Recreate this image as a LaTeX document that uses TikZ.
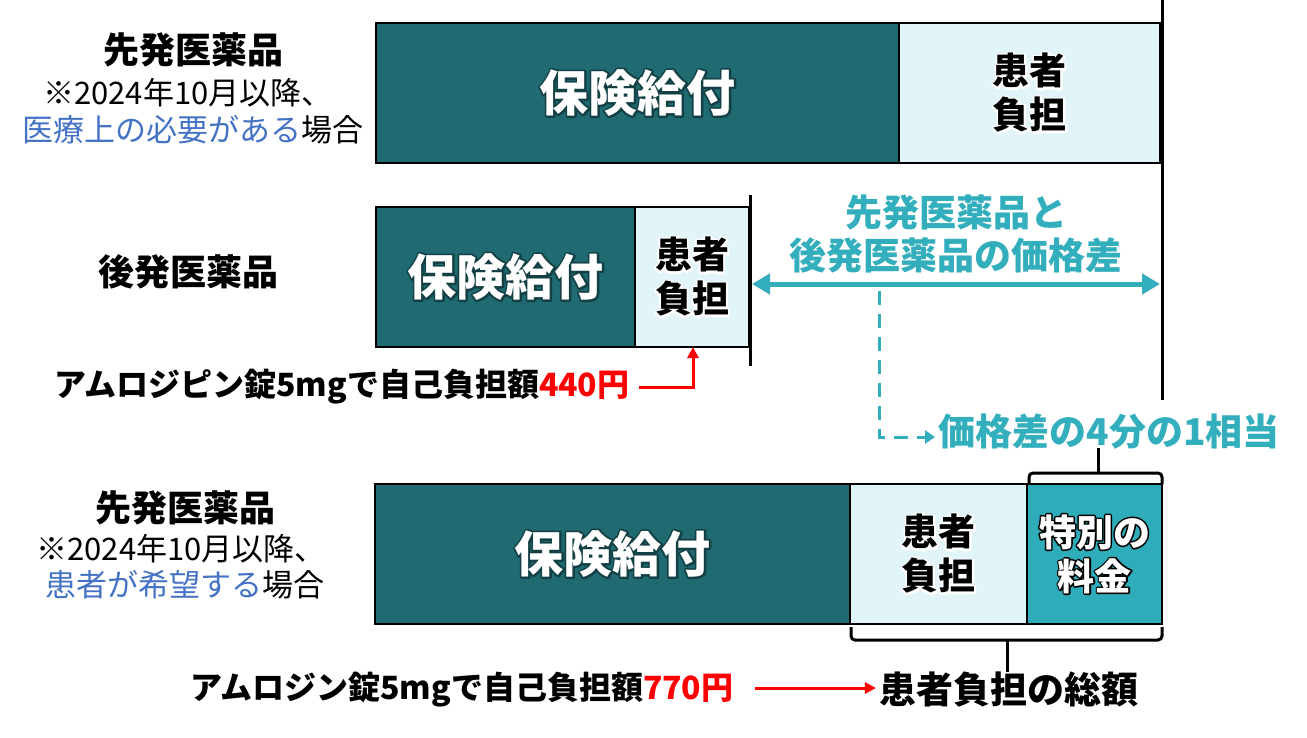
\documentclass[tikz,border=0pt]{standalone}
\usepackage{fontspec}
\setmainfont{Noto Sans CJK JP}
\usetikzlibrary{arrows.meta}
\definecolor{dk}{HTML}{1F6B71}
\definecolor{lt}{HTML}{E1F4F7}
\definecolor{md}{HTML}{2EACBA}
\definecolor{tl}{HTML}{33AEBD}
\definecolor{bl}{HTML}{4472C4}
\definecolor{rd}{HTML}{FF0000}
% glow: a stroked copy under the text (stroke colour as PDF rgb, width)
\newcommand\glowline[3]{\rlap{\special{pdf:literal #2 RG #3 w 1 j 1 Tr}#1\special{pdf:literal 0 Tr}}#1}
\tikzset{
  seg/.style={draw=black, line width=1.3pt, inner sep=0pt, outer sep=0pt, anchor=north west},
  bigtxt/.style={font=\fontsize{49}{52}\selectfont\bfseries, text=white},
  pattxt/.style={font=\fontsize{37}{44}\selectfont\bfseries, align=center},
  title/.style={font=\fontsize{36}{40}\selectfont\bfseries},
  sub/.style={font=\fontsize{31}{35}\selectfont},
  note/.style={font=\fontsize{32}{36}\selectfont\bfseries},
  tealtxt/.style={font=\fontsize{37}{43}\selectfont\bfseries, text=tl, align=center},
  bar/.style={line width=3pt, black},
  redarr/.style={rd, line width=3pt, -{Triangle[length=11pt,width=11pt]}},
  brk/.style={line width=3pt, black, rounded corners=4pt}
}
\def\dkglow{0.07 0.25 0.27}
\begin{document}
\begin{tikzpicture}[x=1pt,y=-1pt]
\useasboundingbox (0,0) rectangle (1307,737);
% row 1
\node[seg, fill=dk, minimum width=523pt, minimum height=140pt] (a1) at (376,23) {};
\node[seg, fill=lt, minimum width=261pt, minimum height=140pt] (a2) at (899,23) {};
\node[bigtxt] (a1t) at (a1.center) {\glowline{保険給付}{\dkglow}{4}};
\node[pattxt] (a2t) at (a2.center) {\glowline{患者}{1 1 1}{4}\\\glowline{負担}{1 1 1}{4}};
% row 2
\node[seg, fill=dk, minimum width=259pt, minimum height=140pt] (b1) at (376,207) {};
\node[seg, fill=lt, minimum width=114pt, minimum height=140pt] (b2) at (635,207) {};
\node[bigtxt] (b1t) at (b1.center) {\glowline{保険給付}{\dkglow}{4}};
\node[pattxt] (b2t) at (b2.center) {\glowline{患者}{1 1 1}{4}\\\glowline{負担}{1 1 1}{4}};
% row 3
\node[seg, fill=dk, minimum width=475pt, minimum height=140pt] (c1) at (375,484) {};
\node[seg, fill=lt, minimum width=177pt, minimum height=140pt] (c2) at (850,484) {};
\node[seg, fill=md, minimum width=135pt, minimum height=140pt] (c3) at (1027,484) {};
\node[bigtxt] (c1t) at (c1.center) {\glowline{保険給付}{\dkglow}{4}};
\node[pattxt] (c2t) at (c2.center) {\glowline{患者}{1 1 1}{4}\\\glowline{負担}{1 1 1}{4}};
\node[pattxt, text=white] (c3t) at (c3.center) {\glowline{特別の}{0 0 0}{3}\\\glowline{料金}{0 0 0}{3}};
% vertical bars
\coordinate (v1a) at (1162,0);
\coordinate (v1b) at (1162,400);
\coordinate (v2a) at (750,195);
\coordinate (v2b) at (750,366);
\draw[bar] (v1a) -- (v1b);
\draw[bar] (v2a) -- (v2b);
% left labels
\node[title] (l1) at (193,50) {先発医薬品};
\node[sub] (l1b) at (188,93) {※2024年10月以降、};
\node[sub] (l1c) at (193,130) {\textcolor{bl}{医療上の必要がある}場合};
\node[title] (l2) at (188,272) {後発医薬品};
\node[title] (l3) at (185,508) {先発医薬品};
\node[sub] (l3b) at (181,549) {※2024年10月以降、};
\node[sub] (l3c) at (185,585) {\textcolor{bl}{患者が希望する}場合};
% price difference arrow
\coordinate (pd1) at (752,284);
\coordinate (pd2) at (1160,284);
\draw[tl, line width=5pt, {Triangle[length=18pt,width=20pt]}-{Triangle[length=18pt,width=20pt]}] (pd1) -- (pd2);
\node[tealtxt] (pdt) at (956,234) {先発医薬品と\\後発医薬品の価格差};
% quarter
\node[font=\fontsize{37}{40}\selectfont\bfseries, text=tl, anchor=west] (q) at (935,432) {価格差の4分の1相当};
\coordinate (d0) at (879,291);
\coordinate (d1) at (879,437);
\draw[tl, line width=3pt, dash pattern=on 14pt off 9pt, -{Triangle[length=10pt,width=13pt]}] (d0) -- (d1) -- (q.west |- d1);
% top bracket over special fee
\coordinate (tb1) at (1029,484);
\coordinate (tb2) at (1162,484);
\draw[brk] (tb1) -- (1029,473) -- (1162,473) -- (tb2);
\coordinate (tk) at (1098,448);
\draw[line width=3pt] (1098,473) -- (tk);
% bottom bracket
\coordinate (bb1) at (851,627);
\coordinate (bb2) at (1162,627);
\draw[brk] (bb1) -- (851,640) -- (1162,640) -- (bb2);
\node[font=\fontsize{37}{40}\selectfont\bfseries] (tot) at (1009,690) {患者負担の総額};
\draw[line width=3pt] (1007,640) -- (1007,672);
% bottom notes
\node[note] (n1) at (342,387) {アムロジピン錠5mgで自己負担額\textcolor{rd}{440円}};
\draw[redarr] (n1.east) ++(6,0) coordinate (r1) -- (693,387) -- (b2.south -| 693,0);
\node[note] (n2) at (462,690) {アムロジン錠5mgで自己負担額\textcolor{rd}{770円}};
\coordinate (r2a) at (755,688);
\draw[redarr] (r2a) -- (tot.west |- r2a);
\end{tikzpicture}
\end{document}
